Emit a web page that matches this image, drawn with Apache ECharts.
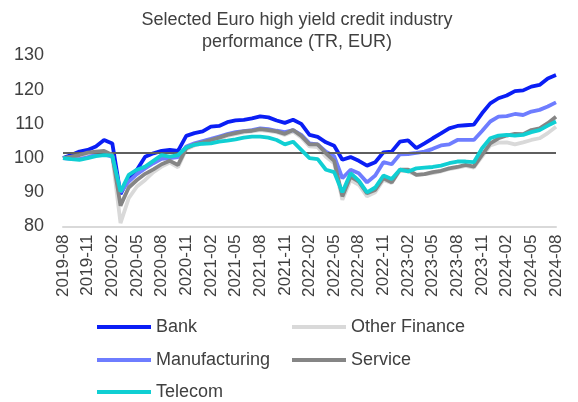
<!DOCTYPE html>
<html><head><meta charset="utf-8">
<script src="https://cdn.jsdelivr.net/npm/echarts@6/dist/echarts.min.js"></script>
<style>html,body{margin:0;padding:0;background:#fff}#c{width:578px;height:402px}</style>
</head><body><div id="c"></div>
<script>
const titleText = "Selected Euro high yield credit industry\nperformance (TR, EUR)";
const seriesNames = ["Bank", "Other Finance", "Manufacturing", "Service", "Telecom"];
const seriesColors = ["#0A1EF5", "#D9D9D9", "#6E7DFF", "#858585", "#10CFD3"];
const referenceLevel = 101.6;
const yTicks = [80, 90, 100, 110, 120, 130];

// monthly categories 2019-08 .. 2024-08
const categories = [
 "2019-08","2019-09","2019-10","2019-11","2019-12",
 "2020-01","2020-02","2020-03","2020-04","2020-05","2020-06","2020-07","2020-08","2020-09","2020-10","2020-11","2020-12",
 "2021-01","2021-02","2021-03","2021-04","2021-05","2021-06","2021-07","2021-08","2021-09","2021-10","2021-11","2021-12",
 "2022-01","2022-02","2022-03","2022-04","2022-05","2022-06","2022-07","2022-08","2022-09","2022-10","2022-11","2022-12",
 "2023-01","2023-02","2023-03","2023-04","2023-05","2023-06","2023-07","2023-08","2023-09","2023-10","2023-11","2023-12",
 "2024-01","2024-02","2024-03","2024-04","2024-05","2024-06","2024-07","2024-08"
];

const bank = [100,100.9,101.9,102.4,103.4,105.3,104.3,89.5,94.1,96.6,100.4,101.4,102.1,102.4,102.1,106.5,107.3,107.8,109.2,109.4,110.5,111.0,111.2,111.6,112.2,111.9,111.0,110.3,111.2,110.0,106.8,106.2,104.6,103.6,99.5,100.3,99.2,97.8,98.8,101.7,101.9,104.8,105.2,102.9,104.3,105.8,107.2,108.7,109.4,109.6,109.8,113.1,116.0,117.5,118.3,119.6,119.8,120.9,121.4,123.3,124.3];
const otherFinance = [100,100.2,100.5,101.1,101.7,101.9,100.5,81.0,88.3,91.7,93.6,95.9,97.5,98.7,97.3,102.6,103.7,104.3,105.0,105.6,106.5,107.0,107.5,107.8,108.2,107.9,107.6,106.8,107.8,106.0,103.4,103.2,100.4,98.5,87.8,93.6,92.2,88.8,90.0,93.6,92.7,96.3,96.1,95.1,95.3,95.6,96.1,96.8,97.2,97.7,97.2,100.4,103.7,104.5,104.6,104.0,104.6,105.3,105.8,107.3,109.2];
const manufacturing = [100,99.8,99.7,100.2,101.0,101.1,100.4,90.0,93.1,95.3,97.0,98.5,99.8,100.0,100.3,103.4,104.3,105.0,105.6,106.3,107.0,107.6,107.9,108.2,108.7,108.5,108.0,107.6,108.2,106.8,104.3,104.0,101.9,100.6,94.1,96.6,95.6,92.9,94.9,98.8,98.2,101.1,101.2,101.5,101.9,102.7,103.7,104.0,105.3,105.3,105.3,107.9,110.7,112.1,112.3,112.9,112.6,113.6,114.1,115.1,116.3];
const service = [100,100.4,100.9,101.6,101.9,102.1,100.9,86.1,91.4,93.6,95.4,96.7,98.2,99.2,98.0,102.9,104.0,104.6,105.3,106.0,106.8,107.3,107.8,108.0,108.5,108.2,107.8,107.1,108.2,106.5,104.0,104.0,101.4,99.2,88.8,94.6,93.1,89.7,90.7,94.1,92.9,96.6,96.6,95.1,95.3,95.9,96.3,97.0,97.4,98.0,97.5,100.9,104.3,105.8,106.6,107.1,107.0,108.2,108.7,110.2,112.1];
const telecom = [100,99.7,99.5,100.0,100.6,100.9,100.7,90.2,95.1,96.6,97.5,99.2,100.9,100.4,100.9,103.1,103.9,104.2,104.3,104.8,105.1,105.5,106.0,106.3,106.3,106.0,105.3,104.0,104.8,102.4,100.0,99.7,96.6,95.9,90.0,95.6,93.4,90.0,91.4,94.9,93.9,96.6,96.1,97.0,97.2,97.4,97.8,98.5,99.0,99.0,98.8,102.9,105.8,106.6,106.8,106.6,106.8,107.6,108.2,109.5,110.7];

const seriesValues = [bank, otherFinance, manufacturing, service, telecom];

const chart = echarts.init(document.getElementById('c'), null, {renderer: 'canvas'});
const FONT = 'Liberation Sans, Arial, sans-serif';

const legendPos = [
  {left: 97, top: 318}, {left: 292, top: 318},
  {left: 97, top: 351}, {left: 292, top: 351},
  {left: 97, top: 383}
];

const series = seriesNames.map((n, i) => ({
  name: n, type: 'line', data: seriesValues[i], symbol: 'none', smooth: false,
  lineStyle: {width: 3.8, color: seriesColors[i]}, itemStyle: {color: seriesColors[i]},
  z: 2 + i, animation: false
}));
series.push({
  name: 'ref', type: 'line', data: [], symbol: 'none', animation: false, silent: true,
  markLine: {silent: true, symbol: 'none', label: {show: false},
    lineStyle: {color: '#5F5F5F', width: 2, type: 'solid'},
    data: [{yAxis: referenceLevel}]}
});

chart.setOption({
  animation: false,
  textStyle: {fontFamily: FONT},
  title: {
    text: titleText, left: 292, textAlign: 'center', top: 4,
    textStyle: {fontSize: 18, fontWeight: 'normal', color: '#404040', fontFamily: FONT, lineHeight: 22}
  },
  legend: seriesNames.map((n, i) => ({
    data: [n], left: legendPos[i].left, top: legendPos[i].top, icon: 'rect', padding: 0,
    itemWidth: 54, itemHeight: 4, selectedMode: false,
    textStyle: {fontSize: 18, color: '#404040', fontFamily: FONT}
  })),
  grid: {left: 63, right: 22, top: 55.5, bottom: 175.5, containLabel: false},
  xAxis: {
    type: 'category', data: categories, boundaryGap: false,
    axisLine: {lineStyle: {color: '#D9D9D9', width: 2}},
    axisTick: {show: false},
    axisLabel: {rotate: 90, interval: 2, fontSize: 17, color: '#404040', margin: 8, fontFamily: FONT}
  },
  yAxis: {
    type: 'value', min: yTicks[0], max: yTicks[yTicks.length - 1], interval: 10,
    splitLine: {show: false}, axisLine: {show: false}, axisTick: {show: false},
    axisLabel: {fontSize: 18, color: '#404040', margin: 19, fontFamily: FONT}
  },
  series: series
});
</script></body></html>
